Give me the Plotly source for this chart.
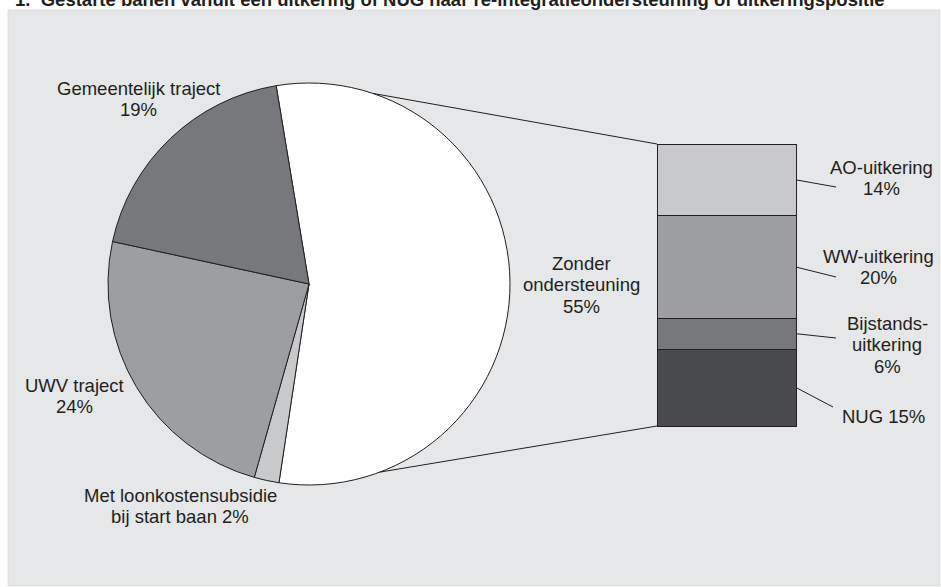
import math
import plotly.graph_objects as go

W, H = 941, 587

# ---------------- data ----------------
title_text = "1.  Gestarte banen vanuit een uitkering of NUG naar re-integratieondersteuning of uitkeringspositie"

pie_labels = ["Zonder ondersteuning", "Met loonkostensubsidie bij start baan", "UWV traject", "Gemeentelijk traject"]
pie_values = [55, 2, 24, 19]
pie_label_lines = [["Zonder", "ondersteuning"], ["Met loonkostensubsidie", "bij start baan"], ["UWV traject"], ["Gemeentelijk traject"]]
pie_pct_newline = [True, False, True, True]

bar_labels = ["NUG", "Bijstandsuitkering", "WW-uitkering", "AO-uitkering"]   # bottom -> top
bar_values = [15, 6, 20, 14]
bar_label_lines = [["NUG"], ["Bijstands-", "uitkering"], ["WW-uitkering"], ["AO-uitkering"]]
bar_pct_newline = [False, True, True, True]

# ---------------- styles / layout constants (px) ----------------
pie_colors = ["#ffffff", "#c8c9cb", "#9d9ea1", "#77787b"]
bar_colors = ["#4a4b4d", "#77787b", "#9d9ea1", "#c8c9cb"]
EDGE = "#231f20"
PANEL = "#e6e7e8"
TXT = "#231f20"
FONT = "Liberation Sans, Arial, Helvetica, sans-serif"
FS = 18.5
LINE_H = 21.7

CX, CY, R = 309, 284, 201          # pie centre/radius
PIE_ROT = -9.4                      # start angle of first slice (deg clockwise from 12 o'clock)
BX0, BX1, BY0, BY1 = 657, 796, 144, 426   # bar box
A_TOP, A_BOT = 18.5, 159.4          # connector attach angles on pie

# label centres: (x, y of first line)
pie_label_pos = [(581, 263), (180, 495), (74, 385), (138, 88)]
bar_label_pos = [(883, 416), (887, 323), (878, 256), (881, 167)]
bar_leader_end = [(833, 407), (836, 338), (836, 277), (836, 187)]


def px(x):
    return x / W


def py(y):
    return 1 - y / H


fig = go.Figure()

# pie
fig.add_trace(go.Pie(
    labels=pie_labels, values=pie_values, sort=False, direction="clockwise",
    rotation=PIE_ROT, textinfo="none", hoverinfo="skip", showlegend=False,
    marker=dict(colors=pie_colors, line=dict(color=EDGE, width=1)),
    domain=dict(x=[px(CX - R), px(CX + R)], y=[py(CY + R), py(CY - R)]),
))

# stacked bar
total = sum(bar_values)
padx = 1.0 / (BX1 - BX0)
pady = total / (BY1 - BY0)
for lab, val, col in zip(bar_labels, bar_values, bar_colors):
    fig.add_trace(go.Bar(
        x=[0], y=[val], width=1, name=lab, hoverinfo="skip", showlegend=False,
        marker=dict(color=col, line=dict(color=EDGE, width=1)),
    ))

shapes = [dict(type="rect", xref="paper", yref="paper", x0=px(8), x1=px(940), y0=py(586), y1=py(10),
               fillcolor=PANEL, line=dict(color="#d2d3d5", width=0.6), layer="below")]

# connectors pie -> bar
for ang, by in [(A_TOP, BY0), (A_BOT, BY1)]:
    a = math.radians(ang)
    x0 = CX + R * math.sin(a)
    y0 = CY - R * math.cos(a)
    shapes.append(dict(type="line", xref="paper", yref="paper", x0=px(x0), y0=py(y0),
                       x1=px(BX0), y1=py(by), line=dict(color=EDGE, width=1), layer="above"))

# leader lines bar -> labels
cum = 0
for val, (ex, ey) in zip(bar_values, bar_leader_end):
    mid = cum + val / 2
    cum += val
    sy = BY1 - mid / total * (BY1 - BY0)
    shapes.append(dict(type="line", xref="paper", yref="paper", x0=px(BX1), y0=py(sy),
                       x1=px(ex), y1=py(ey), line=dict(color=EDGE, width=1), layer="above"))

annotations = []


def add_label(lines, value, newline, pos):
    lines = list(lines)
    if newline:
        lines.append(f"{value}%")
    else:
        lines[-1] = f"{lines[-1]} {value}%"
    x, y = pos
    for i, t in enumerate(lines):
        annotations.append(dict(text=t, x=px(x), y=py(y + i * LINE_H), xref="paper", yref="paper",
                                xanchor="center", yanchor="middle", showarrow=False,
                                font=dict(family=FONT, size=FS, color=TXT)))


for lines, v, nl, pos in zip(pie_label_lines, pie_values, pie_pct_newline, pie_label_pos):
    add_label(lines, v, nl, pos)
for lines, v, nl, pos in zip(bar_label_lines, bar_values, bar_pct_newline, bar_label_pos):
    add_label(lines, v, nl, pos)

annotations.append(dict(text=f"<b>{title_text}</b>", x=px(13), y=py(-0.4), xref="paper", yref="paper",
                        xanchor="left", yanchor="middle", showarrow=False, align="left",
                        font=dict(family=FONT, size=18.5, color=TXT)))

fig.update_layout(
    width=W, height=H, margin=dict(l=0, r=0, t=0, b=0),
    paper_bgcolor="white", plot_bgcolor="rgba(0,0,0,0)",
    barmode="stack", bargap=0,
    xaxis=dict(domain=[px(BX0 - 1), px(BX1 + 1)], range=[-0.5 - padx, 0.5 + padx], visible=False, fixedrange=True),
    yaxis=dict(domain=[py(BY1 + 1), py(BY0 - 1)], range=[-pady, total + pady], visible=False, fixedrange=True),
    shapes=shapes, annotations=annotations, hovermode=False,
)

fig.write_html(
    "out.html",
    config={"displayModeBar": False, "staticPlot": True},
    post_script="document.body.style.margin='0';document.body.style.overflow='hidden';",
)
